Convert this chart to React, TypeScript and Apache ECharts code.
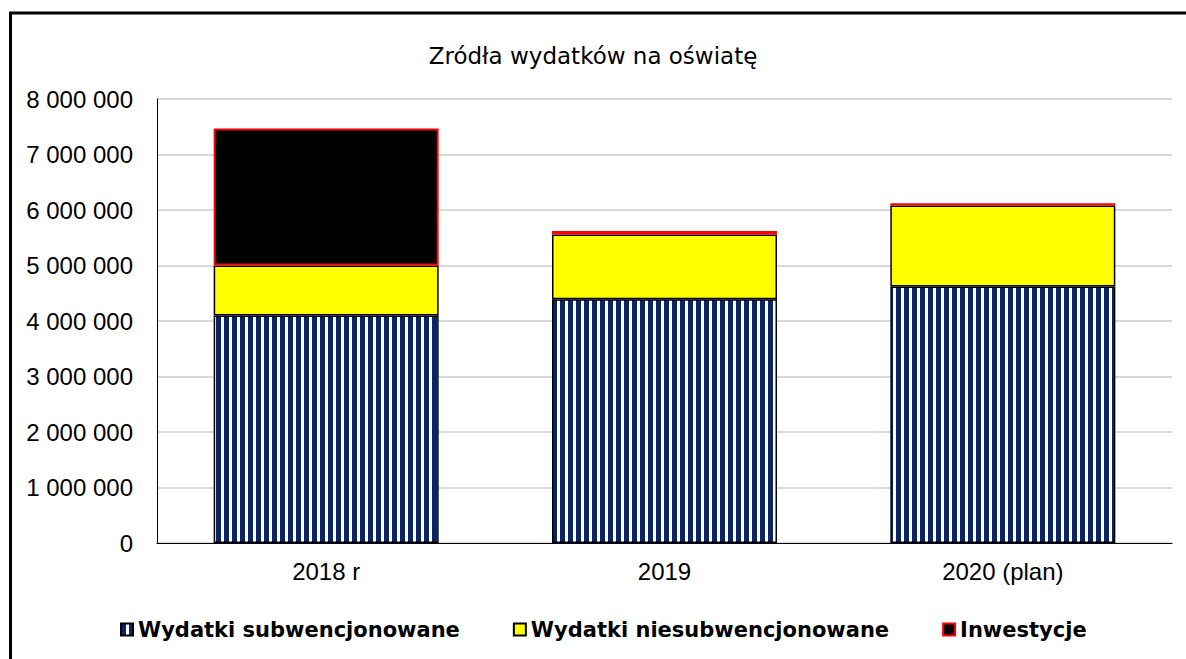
import React, { useEffect, useRef } from "react";
import * as echarts from "echarts";

const categories = ["2018 r", "2019", "2020 (plan)"];
const subwencjonowane = [4100000, 4390000, 4620000];
const niesubwencjonowane = [900000, 1170000, 1460000];
const inwestycje = [2470000, 60000, 40000];
const seriesNames = ["Wydatki subwencjonowane", "Wydatki niesubwencjonowane", "Inwestycje"];
const titleText = "Zródła wydatków na oświatę";

function stripePattern() {
  const c = document.createElement("canvas");
  c.width = 8;
  c.height = 8;
  const ctx = c.getContext("2d")!;
  ctx.fillStyle = "#ffffff";
  ctx.fillRect(0, 0, 8, 8);
  ctx.fillStyle = "#0b2462";
  ctx.fillRect(0, 0, 5, 8);
  return c;
}

function fmt(v: number) {
  return String(v).replace(/\B(?=(\d{3})+(?!\d))/g, " ");
}

export default function App() {
  const ref = useRef<HTMLDivElement>(null);
  useEffect(() => {
    if (!ref.current) return;
    const chart = echarts.init(ref.current, undefined, { renderer: "svg" });
    const pattern = { image: stripePattern(), repeat: "repeat" } as any;
    chart.setOption({
      animation: false,
      backgroundColor: "#ffffff",
      title: {
        text: titleText,
        left: "center",
        top: 39,
        textStyle: { fontFamily: "DejaVu Sans", fontSize: 23, fontWeight: "normal", color: "#000" },
      },
      graphic: [
        {
          type: "rect",
          shape: { x: 10.5, y: 13, width: 1300, height: 800 },
          style: { fill: "none", stroke: "#000", lineWidth: 3 },
          z: 100,
        },
      ],
      legend: {
        left: 115,
        top: 614,
        icon: "rect",
        itemWidth: 12,
        itemHeight: 12,
        itemGap: 53,
        textStyle: { fontFamily: "DejaVu Sans", fontSize: 21, fontWeight: "bold", color: "#000" },
        data: seriesNames,
      },
      grid: { left: 157, right: 14, top: 99, bottom: 116 },
      xAxis: {
        type: "category",
        data: categories,
        axisLine: { lineStyle: { color: "#000", width: 1 } },
        axisTick: { show: false },
        axisLabel: { fontFamily: "Liberation Sans", fontSize: 24, color: "#000", margin: 16 },
      },
      yAxis: {
        type: "value",
        min: 0,
        max: 8000000,
        interval: 1000000,
        axisLine: { show: true, lineStyle: { color: "#000", width: 1 } },
        axisTick: { show: false },
        splitLine: { lineStyle: { color: "#d9d9d9", width: 2 } },
        axisLabel: {
          fontFamily: "Liberation Sans",
          fontSize: 24,
          color: "#000",
          margin: 24,
          formatter: (v: number) => fmt(v),
        },
      },
      series: [
        {
          name: seriesNames[0],
          type: "bar",
          stack: "a",
          barWidth: "66.5%",
          data: subwencjonowane,
          itemStyle: { color: pattern, borderColor: "#000", borderWidth: 1.5 },
        },
        {
          name: seriesNames[1],
          type: "bar",
          stack: "a",
          data: niesubwencjonowane,
          itemStyle: { color: "#ffff00", borderColor: "#000", borderWidth: 1.5 },
        },
        {
          name: seriesNames[2],
          type: "bar",
          stack: "a",
          data: inwestycje,
          itemStyle: { color: "#000000", borderColor: "#ff0000", borderWidth: 2 },
        },
      ],
    });
    return () => chart.dispose();
  }, []);
  return (
    <div
      ref={ref}
      style={{ position: "fixed", left: 0, top: 0, width: 1186, height: 659 }}
    />
  );
}
